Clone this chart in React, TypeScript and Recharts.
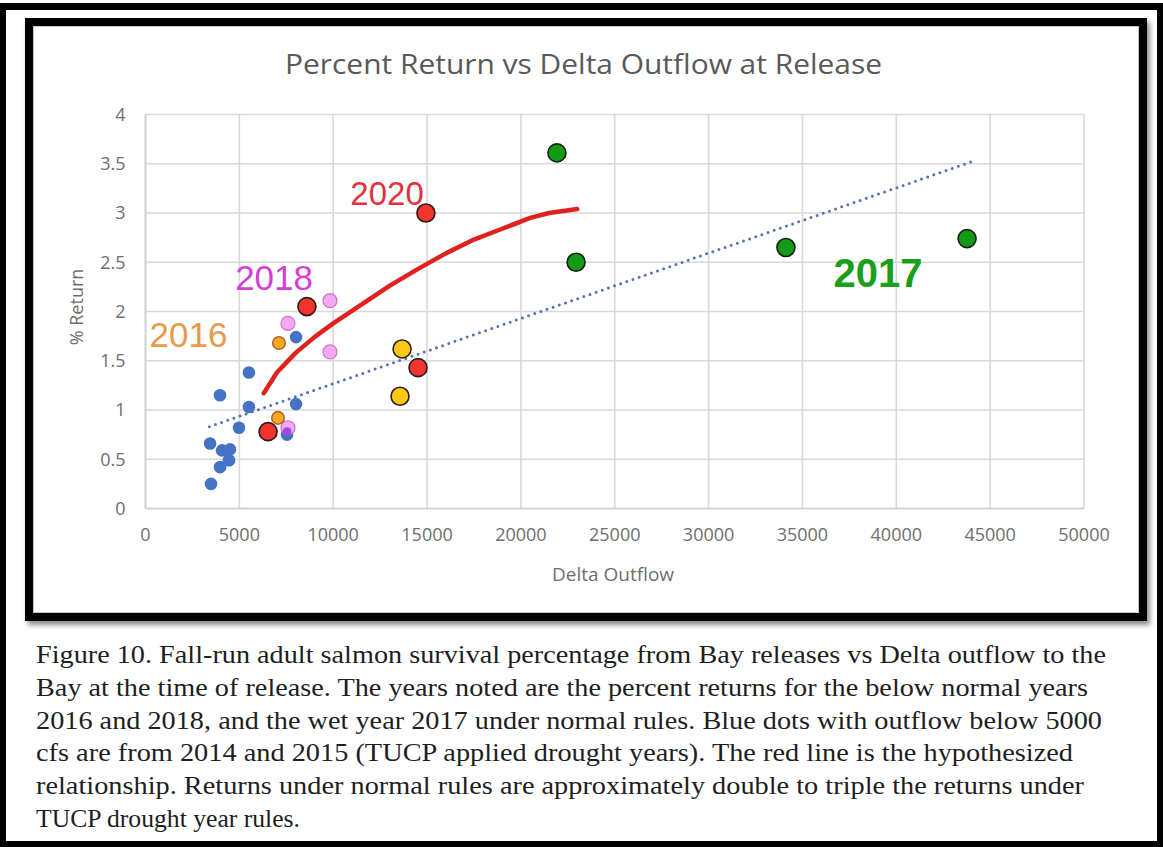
import { ScatterChart, Scatter, XAxis, YAxis, CartesianGrid } from 'recharts'

const xTicks = [0, 5000, 10000, 15000, 20000, 25000, 30000, 35000, 40000, 45000, 50000]
const yTicks = [0, 0.5, 1, 1.5, 2, 2.5, 3, 3.5, 4]

// 2014/2015 drought years (blue)
const blueDots = [
  { x: 3490, y: 0.25 },
  { x: 3970, y: 1.15 },
  { x: 5510, y: 1.38 },
  { x: 5510, y: 1.03 },
  { x: 8020, y: 1.74 },
  { x: 8020, y: 1.06 },
  { x: 4980, y: 0.82 },
  { x: 7540, y: 0.75 },
  { x: 3440, y: 0.66 },
  { x: 4080, y: 0.59 },
  { x: 4500, y: 0.6 },
  { x: 4450, y: 0.49 },
  { x: 3970, y: 0.42 },
]

const dots2016 = [
  { x: 7110, y: 1.68 },
  { x: 7060, y: 0.92 },
]

const dots2018 = [
  { x: 7590, y: 1.88 },
  { x: 9830, y: 2.11 },
  { x: 9830, y: 1.59 },
  { x: 7590, y: 0.82 },
]

const purpleDots = [{ x: 7540, y: 0.78 }]

const dots2020 = [
  { x: 8600, y: 2.05 },
  { x: 6530, y: 0.78 },
  { x: 14940, y: 3.0 },
  { x: 14520, y: 1.43 },
]

const yellowDots = [
  { x: 13670, y: 1.62 },
  { x: 13560, y: 1.14 },
]

const dots2017 = [
  { x: 21920, y: 3.61 },
  { x: 22940, y: 2.5 },
  { x: 34120, y: 2.65 },
  { x: 43770, y: 2.74 },
]

// hypothesized relationship (red hand-drawn line)
const redCurve = [
  { x: 6300, y: 1.17 },
  { x: 7000, y: 1.38 },
  { x: 8000, y: 1.58 },
  { x: 9000, y: 1.74 },
  { x: 10000, y: 1.88 },
  { x: 11500, y: 2.07 },
  { x: 13000, y: 2.26 },
  { x: 14500, y: 2.43 },
  { x: 16000, y: 2.59 },
  { x: 17500, y: 2.73 },
  { x: 19000, y: 2.84 },
  { x: 20500, y: 2.95 },
  { x: 21500, y: 3.0 },
  { x: 23000, y: 3.04 },
]

// linear trendline
const trendLine = [
  { x: 3400, y: 0.83 },
  { x: 44000, y: 3.52 },
]

const yearLabels = [
  { x: 12870, y: 3.08, text: '2020', color: '#e3323b', size: 33, bold: false },
  { x: 6850, y: 2.22, text: '2018', color: '#d53fd6', size: 35, bold: false },
  { x: 2290, y: 1.64, text: '2016', color: '#e8994b', size: 35, bold: false },
  { x: 39030, y: 2.25, text: '2017', color: '#1a9f1a', size: 40, bold: true },
]

const captionLines = [
  'Figure 10. Fall-run adult salmon survival percentage from Bay releases vs Delta outflow to the',
  'Bay at the time of release. The years noted are the percent returns for the below normal years',
  '2016 and 2018, and the wet year 2017 under normal rules. Blue dots with outflow below 5000',
  'cfs are from 2014 and 2015 (TUCP applied drought years). The red line is the hypothesized',
  'relationship. Returns under normal rules are approximately double to triple the returns under',
  'TUCP drought year rules.',
]
const captionWidths = [1070, 1052, 1066, 1037, 1048, 264]

const dot = (r: number, fill: string, stroke: string, sw: number) => (p: any) => (
  <circle cx={p.cx} cy={p.cy} r={r} fill={fill} stroke={stroke} strokeWidth={sw} />
)

const noDot = () => <g />

const yearText = (p: any) => {
  const d = p.payload
  return (
    <text
      x={p.cx}
      y={p.cy}
      textAnchor="middle"
      fill={d.color}
      fontSize={d.size}
      fontWeight={d.bold ? 700 : 400}
      fontFamily="'Liberation Sans', Arial, sans-serif"
    >
      {d.text}
    </text>
  )
}

const tickStyle = { fill: '#6e6e6e', fontSize: 18, fontFamily: "'Open Sans', sans-serif" }

export default function App() {
  return (
    <div style={{ position: 'absolute', left: 0, top: 0, width: 1163, height: 847, background: '#fff', overflow: 'hidden' }}>
      <div
        style={{
          position: 'absolute',
          left: 0,
          top: 3,
          width: 1163,
          height: 844,
          border: '6px solid #000',
          borderTopWidth: 7,
          boxSizing: 'border-box',
        }}
      />
      <div
        style={{
          position: 'absolute',
          left: 25,
          top: 18,
          width: 1122,
          height: 603,
          border: '8px solid #000',
          boxSizing: 'border-box',
          boxShadow: '3px 4px 5px rgba(0,0,0,0.45), inset 0 0 0 1px #c8c8c8',
        }}
      />
      <div style={{ position: 'absolute', left: 0, top: 0 }}>
        <ScatterChart width={1163} height={640} margin={{ top: 114.5, right: 79, bottom: 101.5, left: 85.5 }}>
          <CartesianGrid stroke="#d9d9d9" strokeWidth={1.6} />
          <XAxis
            type="number"
            dataKey="x"
            domain={[0, 50000]}
            ticks={xTicks}
            interval={0}
            height={30}
            tick={tickStyle}
            tickLine={false}
            tickSize={6}
            tickMargin={14}
            axisLine={{ stroke: '#cfcfcf', strokeWidth: 1.6 }}
          />
          <YAxis
            type="number"
            dataKey="y"
            domain={[0, 4]}
            ticks={yTicks}
            interval={0}
            width={60}
            tick={tickStyle}
            tickLine={false}
            tickSize={6}
            tickMargin={14}
            axisLine={{ stroke: '#cfcfcf', strokeWidth: 1.6 }}
          />
          <Scatter data={blueDots} shape={dot(6.3, '#4472c4', '#4472c4', 0)} isAnimationActive={false} />
          <Scatter
            data={trendLine}
            shape={noDot}
            line={{ stroke: '#5574aa', strokeWidth: 3, strokeDasharray: '0 6.5', strokeLinecap: 'round' }}
            isAnimationActive={false}
          />
          <Scatter
            data={redCurve}
            shape={noDot}
            line={{ stroke: '#e0221f', strokeWidth: 4.5, strokeLinecap: 'round', strokeLinejoin: 'round' }}
            isAnimationActive={false}
          />
          <Scatter data={dots2018} shape={dot(7, '#f5a8f3', '#cf72cf', 1.2)} isAnimationActive={false} />
          <Scatter data={purpleDots} shape={dot(4.5, '#9a4fe0', '#9a4fe0', 0)} isAnimationActive={false} />
          <Scatter data={dots2016} shape={dot(6.3, '#f8a821', '#a9652a', 1.5)} isAnimationActive={false} />
          <Scatter data={dots2020} shape={dot(9, '#f2332e', '#2a1a1a', 1.6)} isAnimationActive={false} />
          <Scatter data={yellowDots} shape={dot(9, '#fbc813', '#2a2210', 1.6)} isAnimationActive={false} />
          <Scatter data={dots2017} shape={dot(9, '#139a17', '#102010', 1.6)} isAnimationActive={false} />
          <Scatter data={yearLabels} shape={yearText} isAnimationActive={false} />
        </ScatterChart>
      </div>
      <svg width={1163} height={847} style={{ position: 'absolute', left: 0, top: 0, pointerEvents: 'none' }}>
        <text
          x={285}
          y={74}
          fontSize={28}
          fill="#595959"
          fontFamily="'Open Sans', sans-serif"
          textLength={597}
          lengthAdjust="spacingAndGlyphs"
        >
          Percent Return vs Delta Outflow at Release
        </text>
        <text
          x={0}
          y={0}
          transform="translate(83,307) rotate(-90)"
          textAnchor="middle"
          fontSize={18}
          fill="#6e6e6e"
          fontFamily="'Open Sans', sans-serif"
        >
          % Return
        </text>
        <text
          x={613}
          y={581}
          textAnchor="middle"
          fontSize={19}
          fill="#6e6e6e"
          fontFamily="'Open Sans', sans-serif"
        >
          Delta Outflow
        </text>
        {captionLines.map((line, i) => (
          <text
            key={i}
            x={36}
            y={663 + i * 32.8}
            fontSize={26}
            fill="#1e1e1e"
            fontFamily="'Liberation Serif', 'Times New Roman', serif"
            textLength={captionWidths[i]}
            lengthAdjust="spacingAndGlyphs"
          >
            {line}
          </text>
        ))}
      </svg>
    </div>
  )
}
